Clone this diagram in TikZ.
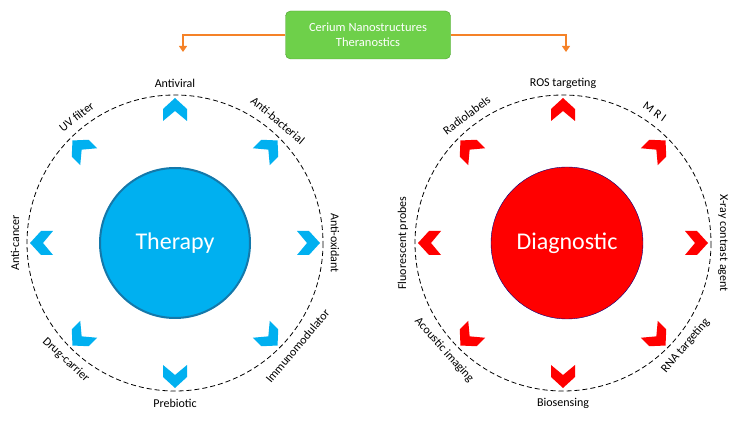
\documentclass[tikz,border=0pt]{standalone}
\usepackage{fontspec}
\setmainfont{Carlito}
\usetikzlibrary{arrows.meta}
\definecolor{thcyan}{RGB}{0,176,240}
\definecolor{thrim}{RGB}{20,120,170}
\definecolor{boxgreen}{RGB}{110,208,74}
\definecolor{boxrim}{RGB}{80,160,50}
\definecolor{arrorange}{RGB}{245,130,40}
\tikzset{
  ring/.style={thick, dash pattern=on 5pt off 3pt},
  lbl/.style={font=\fontsize{12}{14}\selectfont},
}
\newcommand{\chevron}[4]{% centre x, centre y, angle, colour
  \fill[#4, shift={(#1,#2)}, shift={({133*cos(#3)},{-133*sin(#3)})}, rotate=#3]
    (-11,-12) -- (1,-12) -- (12,0) -- (1,12) -- (-11,12) -- (-1,0) -- cycle;
}
\begin{document}
\begin{tikzpicture}[x=1pt,y=-1pt]
  \useasboundingbox (0,0) rectangle (737,422);

  % Title box and arrows
  \node[draw=boxrim, fill=boxgreen, rounded corners=5pt, minimum width=165, minimum height=48,
        align=center, text=white, font=\fontsize{12.5}{15}\selectfont] (title) at (368,35)
        {Cerium Nanostructures\\Theranostics};
  \coordinate (lt) at (183,52);
  \coordinate (rt) at (566,52);
  \draw[arrorange, very thick, -{Triangle[length=6pt,width=8pt]}] (title.west) -| (lt);
  \draw[arrorange, very thick, -{Triangle[length=6pt,width=8pt]}] (title.east) -| (rt);

  % Therapy side
  \draw[ring] (175,243) circle (148);
  \node[circle, minimum size=150, fill=thcyan, draw=thrim, line width=2pt,
        text=white, font=\fontsize{24}{28}\selectfont] (therapy) at (175,243) {Therapy};
  \foreach \a in {90,45,0,-45,-90,-135,180,135}
    {\chevron{175}{243}{\a}{thcyan}}
  \foreach \a/\t in {90/Antiviral,50/Anti-bacterial,0/Anti-oxidant,128/UV filter,180/Anti-cancer}
    {\node[lbl, rotate=\a-90] at ({175+160*cos(\a)},{243-160*sin(\a)}) {\t};}
  \foreach \a/\t in {-90/Prebiotic,-40/Immunomodulator,-133/Drug-carrier}
    {\node[lbl, rotate=\a+90] at ({175+160*cos(\a)},{243-160*sin(\a)}) {\t};}

  % Diagnostic side
  \draw[ring] (563,243) circle (148);
  \node[circle, minimum size=152, fill=red, draw=blue!50!black, thin,
        text=white, font=\fontsize{24}{28}\selectfont] (diag) at (567,243) {Diagnostic};
  \foreach \a in {90,45,0,-45,-90,-135,180,135}
    {\chevron{563}{243}{\a}{red}}
  \foreach \a/\t in {90/ROS targeting,55/M R I,0/X-ray contrast agent,127/Radiolabels,180/Fluorescent probes}
    {\node[lbl, rotate=\a-90] at ({563+160*cos(\a)},{243-160*sin(\a)}) {\t};}
  \foreach \a/\t in {-90/Biosensing,-40/RNA targeting,-138/Acoustic imaging}
    {\node[lbl, rotate=\a+90] at ({563+160*cos(\a)},{243-160*sin(\a)}) {\t};}
\end{tikzpicture}
\end{document}
